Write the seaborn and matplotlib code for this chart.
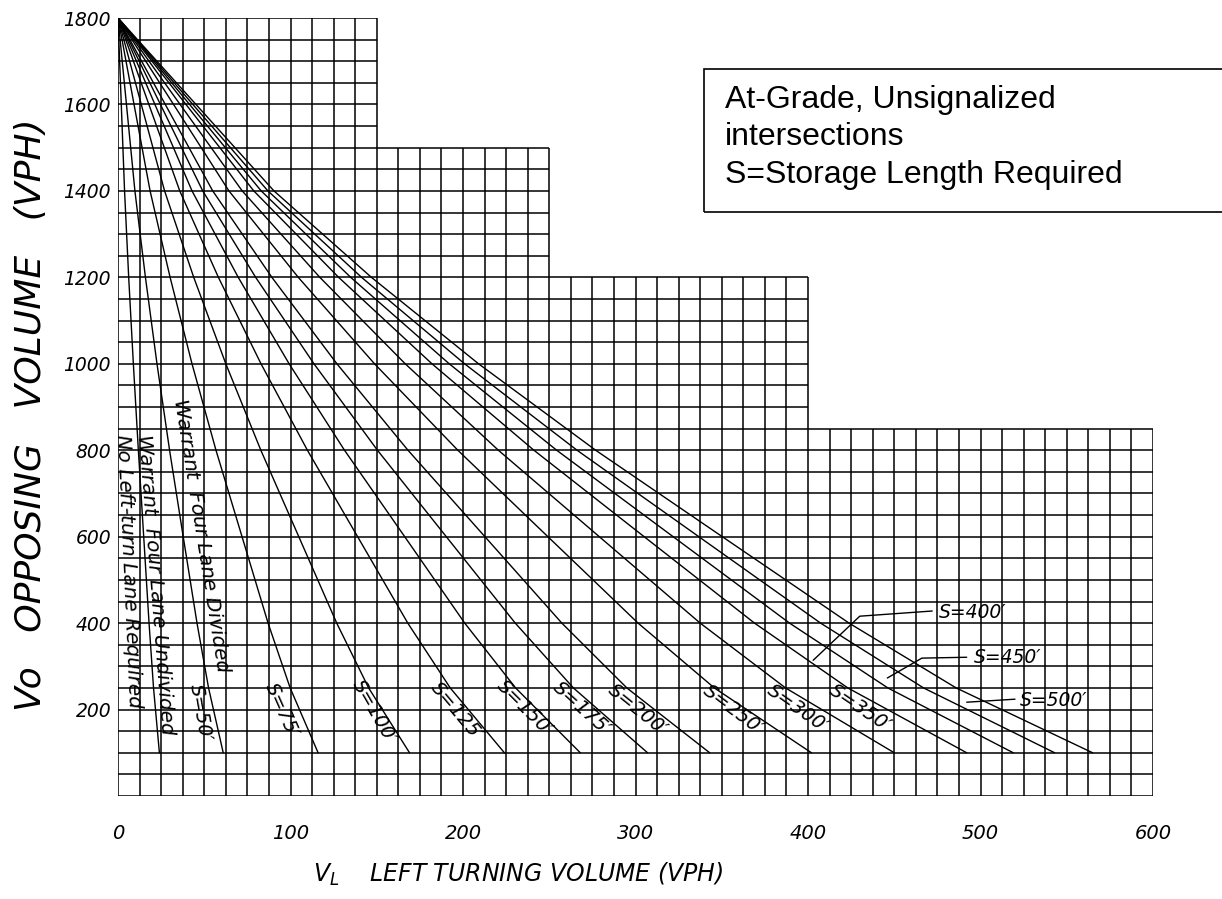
import numpy as np
import pandas as pd
import matplotlib
matplotlib.use('Agg')
import matplotlib.pyplot as plt
from matplotlib.patches import Rectangle
import seaborn as sns

# stepped chart area: right edge of each block and its top
block_right = [150, 250, 400, 600]
block_top = [1800, 1500, 1200, 850]
grid_dx = 12.5
grid_dy = 50

# storage-length curves, all starting at Vo=1800
curve_y = [1800, 1600, 1400, 1200, 1000, 800, 600, 400, 250, 100]
x_undivided = [0, 1.9, 3.8, 6.2, 8.9, 11.8, 14.9, 18, 20.6, 24]
x_s50 = [0, 4.9, 9.8, 15.9, 22.6, 29.9, 37.8, 45.8, 52.5, 61]
x_s75 = [0, 9.3, 18.6, 30.2, 42.9, 56.8, 71.9, 87, 99.8, 116]
x_s100 = [0, 13.5, 27, 43.9, 62.5, 82.8, 104.8, 126.8, 145.3, 169]
x_s125 = [0, 17.9, 35.8, 58.2, 82.9, 109.8, 138.9, 168, 192.6, 224]
x_s150 = [0, 21.4, 42.9, 69.7, 99.2, 131.3, 166.2, 201, 230.5, 268]
x_s175 = [0, 24.6, 49.1, 79.8, 113.6, 150.4, 190.3, 230.3, 264, 307]
x_s200 = [0, 27.4, 54.9, 89.2, 126.9, 168.1, 212.7, 257.3, 295, 343]
x_s250 = [0, 32.2, 64.3, 104.5, 148.7, 197, 249.2, 301.5, 345.7, 402]
x_s300 = [0, 36, 72, 117, 166.5, 220.5, 279, 337.5, 387, 450]
x_s350 = [0, 39.4, 78.7, 127.9, 182, 241.1, 305, 369, 423.1, 492]
x_s400 = [0, 41.5, 83, 134.9, 192, 254.3, 321.8, 389.3, 446.3, 519]
x_s450 = [0, 43.4, 86.9, 141.2, 200.9, 266.1, 336.7, 407.3, 467, 543]
x_s500 = [0, 45.2, 90.4, 146.9, 209, 276.9, 350.3, 423.8, 485.9, 565]

curve_names = ['undivided', 'S50', 'S75', 'S100', 'S125', 'S150', 'S175',
               'S200', 'S250', 'S300', 'S350', 'S400', 'S450', 'S500']
curve_x = [x_undivided, x_s50, x_s75, x_s100, x_s125, x_s150, x_s175,
           x_s200, x_s250, x_s300, x_s350, x_s400, x_s450, x_s500]

# labels written along the curves
warrant_labels = ['No Left-turn Lane Required', 'Warrant  Four Lane Undivided',
                  'Warrant  Four Lane Divided']
warrant_pos = [(5.8, 520), (21.4, 490), (48, 603)]
warrant_rot = [-87.5, -85.5, -81]

s_labels = ["S=50′", "S=75′", "S=100′", "S=125′", "S=150′", "S=175′",
            "S=200′", "S=250′", "S=300′", "S=350′"]
s_pos = [(48, 192), (95, 199), (148.4, 194), (196.5, 196.5), (236, 203),
         (269, 203), (301.4, 199), (356.5, 199), (394, 203), (430, 203)]
s_rot = [-80, -66, -60, -50, -45, -42, -39, -37, -35, -34]

# labels with leader lines
leader_labels = ["S=400′", "S=450′", "S=500′"]
leader_x = [[403, 430, 472], [446, 466, 492], [492, 520]]
leader_y = [[314, 416, 428], [273, 319, 321], [217, 224]]
leader_text_pos = [(476, 425), (496, 321), (523, 222)]

sns.set_style('white')
plt.rcParams['font.family'] = ['DejaVu Sans']
plt.rcParams['text.color'] = 'black'
plt.rcParams['xtick.color'] = 'black'
plt.rcParams['ytick.color'] = 'black'

W, H = 1222, 899
fig = plt.figure(figsize=(W / 100, H / 100), dpi=100)
ax = fig.add_axes([118 / W, 1 - 796 / H, (1153 - 118) / W, (796 - 18) / H])
ax.set_xlim(0, 600)
ax.set_ylim(0, 1800)
for s in ax.spines.values():
    s.set_visible(False)

# grid, stepped
block_left = [0] + block_right[:-1]
xs = np.arange(0, block_right[-1] + 0.1, grid_dx)
vtops = [max(t for l, r, t in zip(block_left, block_right, block_top) if l <= x <= r)
         for x in xs]
ax.vlines(xs, 0, vtops, color='black', lw=1.1, zorder=1)
ys = np.arange(0, block_top[0] + 1, grid_dy)
hright = [max(r for r, t in zip(block_right, block_top) if t >= y) for y in ys]
ax.hlines(ys, 0, hright, color='black', lw=1.1, zorder=1)

# curves
rows = []
for name, cx in zip(curve_names, curve_x):
    for x, y in zip(cx, curve_y):
        rows.append({'curve': name, 'x': x, 'y': y})
df = pd.DataFrame(rows)
sns.lineplot(data=df, x='x', y='y', units='curve', estimator=None, sort=False,
             color='black', lw=1.0, legend=False, ax=ax, zorder=2)

for txt, (lx, ly), rot in zip(warrant_labels, warrant_pos, warrant_rot):
    ax.text(lx, ly, txt, rotation=rot, rotation_mode='anchor', ha='center',
            va='center', fontsize=14.5, fontstyle='oblique', zorder=3)

for txt, (lx, ly), rot in zip(s_labels, s_pos, s_rot):
    ax.text(lx, ly, txt, rotation=rot, rotation_mode='anchor', ha='center',
            va='center', fontsize=14, fontstyle='oblique', zorder=3)

for txt, lx, ly, (tx, ty) in zip(leader_labels, leader_x, leader_y, leader_text_pos):
    ax.plot(lx, ly, color='black', lw=1.0)
    ax.text(tx, ty, txt, ha='left', va='center', fontsize=13.5, fontstyle='oblique')

ax.set_xticks(range(0, 601, 100))
ax.set_yticks(range(200, 1801, 200))
ax.tick_params(axis='x', length=0, pad=20, labelsize=14)
ax.tick_params(axis='y', length=0, pad=5, labelsize=13.5)
for lab in ax.get_xticklabels() + ax.get_yticklabels():
    lab.set_fontstyle('oblique')
ax.set_xlabel('')
ax.set_ylabel('')

fig.text(313 / W, 1 - 882 / H, 'V$_L$    LEFT TURNING VOLUME (VPH)',
         ha='left', va='baseline', fontsize=17, fontstyle='oblique')
fig.text(31 / W, 1 - 415 / H, 'Vo   OPPOSING   VOLUME   (VPH)', rotation=90,
         ha='center', va='center', fontsize=26, fontstyle='oblique')

# note box, running off the right edge
fig.patches.append(Rectangle((704 / W, 1 - 212 / H), 0.5, (212 - 69) / H,
                             transform=fig.transFigure, fill=False,
                             lw=1.2, ec='black'))
note_lines = ['At-Grade, Unsignalized', 'intersections', 'S=Storage Length Required']
for txt, base in zip(note_lines, [108, 145, 183]):
    fig.text(725 / W, 1 - base / H, txt, ha='left', va='baseline',
             fontsize=23, family=['Liberation Sans', 'DejaVu Sans'])

fig.savefig('out.png', dpi=100)
